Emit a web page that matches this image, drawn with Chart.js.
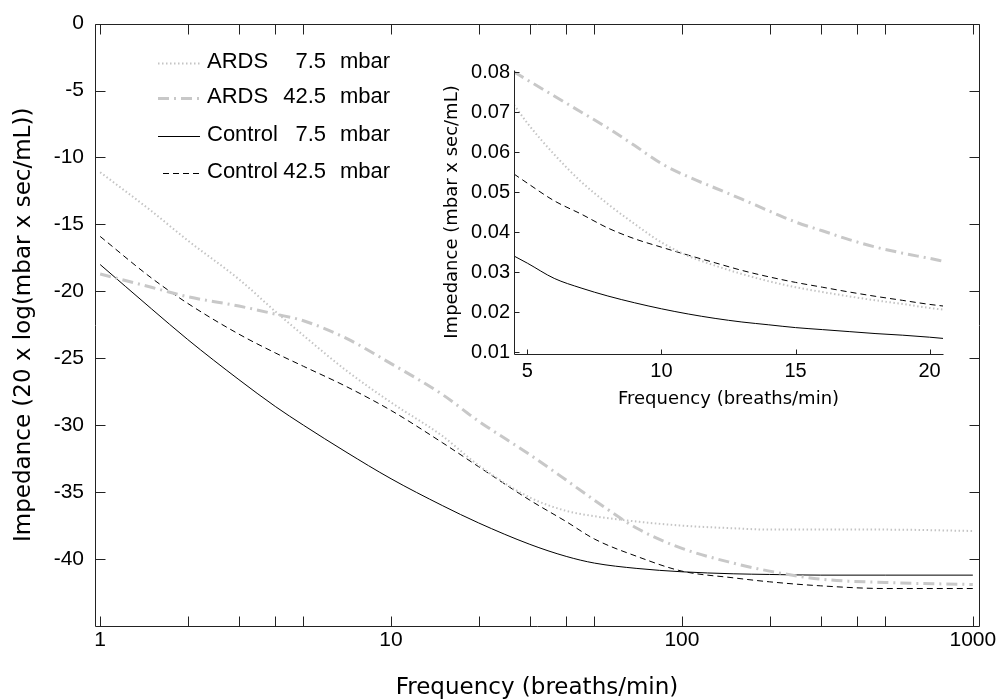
<!DOCTYPE html>
<html>
<head>
<meta charset="utf-8">
<title>Impedance vs frequency</title>
<script src="https://cdn.jsdelivr.net/npm/chart.js@4.4.1/dist/chart.umd.min.js"></script>
<style>
  html, body { margin: 0; padding: 0; background: #fff; }
  #wrap { position: relative; width: 1000px; height: 700px; }
  #main { position: absolute; left: 0; top: 0; }
  #inset { position: absolute; left: 430px; top: 50px; }
</style>
</head>
<body>
<div id="wrap">
  <canvas id="main" width="1000" height="700"></canvas>
  <canvas id="inset" width="520" height="360"></canvas>
</div>
<script>
// series names for the legend
const groups = ["ARDS", "ARDS", "Control", "Control"];
const pressures = ["7.5", "42.5", "7.5", "42.5"];

// main plot: frequency (breaths/min) vs 20 log impedance
const freq = [1, 1.5, 2, 3, 4, 5, 7, 10, 15, 20, 30, 40, 50, 70, 100, 150, 200, 300, 500, 1000];
const ards75 = [-11.1, -14.0, -16.2, -19.1, -21.5, -23.3, -25.9, -28.3, -30.8, -33.0, -35.4, -36.4, -36.8, -37.2, -37.5, -37.7, -37.8, -37.8, -37.8, -37.9];
const ards425 = [-18.7, -19.7, -20.4, -21.1, -21.7, -22.2, -23.5, -25.4, -27.7, -29.7, -32.2, -34.1, -35.6, -37.7, -39.2, -40.3, -40.9, -41.5, -41.75, -41.9];
const ctrl75 = [-18.0, -21.3, -23.6, -26.6, -28.6, -30.0, -32.0, -34.0, -36.0, -37.3, -38.9, -39.8, -40.3, -40.7, -40.95, -41.1, -41.15, -41.2, -41.2, -41.2];
const ctrl425 = [-15.9, -19.0, -20.9, -23.2, -24.6, -25.6, -27.1, -28.9, -31.3, -33.1, -35.6, -37.2, -38.5, -39.8, -40.9, -41.4, -41.7, -42.0, -42.2, -42.2];

const xLabelTicks = [1, 10, 100, 1000];
const xMarkTicks = [1, 2, 3, 4, 5, 10, 20, 30, 40, 50, 100, 200, 300, 400, 500, 1000];
const yTicks = [0, -5, -10, -15, -20, -25, -30, -35, -40];

// inset: linear impedance, 5-20 breaths/min
const insetFreq = [4.5, 5, 6, 7, 8, 9, 10, 11, 12, 13, 14, 15, 16, 17, 18, 19, 20, 20.5];
const insetArds75 = [0.0718, 0.0672, 0.0594, 0.0526, 0.0470, 0.0420, 0.0374, 0.0340, 0.0316, 0.0295, 0.0277, 0.0262, 0.0250, 0.0239, 0.0229, 0.0220, 0.0210, 0.0206];
const insetArds425 = [0.0800, 0.0780, 0.0740, 0.0700, 0.0660, 0.0616, 0.0571, 0.0538, 0.0510, 0.0482, 0.0453, 0.0425, 0.0403, 0.0381, 0.0362, 0.0347, 0.0334, 0.0327];
const insetCtrl75 = [0.0340, 0.0322, 0.0284, 0.0260, 0.0240, 0.0223, 0.0208, 0.0195, 0.0184, 0.0175, 0.0168, 0.0161, 0.0156, 0.0151, 0.0146, 0.0142, 0.0137, 0.0134];
const insetCtrl425 = [0.0545, 0.0522, 0.0478, 0.0445, 0.0410, 0.0383, 0.0362, 0.0342, 0.0323, 0.0304, 0.0288, 0.0274, 0.0262, 0.0250, 0.0239, 0.0229, 0.0219, 0.0215];

const insetXTicks = [5, 10, 15, 20];
const insetYTicks = [0.01, 0.02, 0.03, 0.04, 0.05, 0.06, 0.07, 0.08];

const styles = [
  { color: "#c4c4c4", width: 2, dash: [1.5, 2.5] },
  { color: "#c8c8c8", width: 3, dash: [11, 5, 2, 5] },
  { color: "#000000", width: 1, dash: [] },
  { color: "#000000", width: 1, dash: [6, 4] }
];

const tickFont = "'Liberation Sans', Arial, sans-serif";
const titleFont = "'DejaVu Sans', sans-serif";

function makeDatasets(xs, series) {
  return series.map((ys, i) => ({
    label: `${groups[i]} ${pressures[i]} mbar`,
    data: xs.map((x, j) => ({ x, y: ys[j] })),
    borderColor: styles[i].color,
    borderWidth: styles[i].width,
    borderDash: styles[i].dash,
    pointRadius: 0,
    fill: false,
    cubicInterpolationMode: "monotone"
  }));
}

// axis lines and inward tick marks, MATLAB style
const framePlugin = {
  id: "frame",
  afterDatasetsDraw(chart, args, opts) {
    const { ctx, chartArea: a, scales: { x, y } } = chart;
    const L = Math.round(a.left) + 0.5, R = Math.round(a.right) + 0.5;
    const T = Math.round(a.top) + 0.5, B = Math.round(a.bottom) + 0.5;
    ctx.save();
    ctx.strokeStyle = opts.color;
    ctx.lineWidth = 1;
    ctx.setLineDash([]);
    ctx.beginPath();
    ctx.moveTo(L, T);
    ctx.lineTo(L, B);
    ctx.lineTo(R, B);
    if (opts.box) {
      ctx.lineTo(R, T);
      ctx.lineTo(L, T);
    }
    opts.xTicks.forEach((v) => {
      const px = Math.round(x.getPixelForValue(v)) + 0.5;
      ctx.moveTo(px, B);
      ctx.lineTo(px, B - opts.len);
      if (opts.box) {
        ctx.moveTo(px, T);
        ctx.lineTo(px, T + opts.len);
      }
    });
    opts.yTicks.forEach((v) => {
      const py = Math.round(y.getPixelForValue(v)) + 0.5;
      ctx.moveTo(L, py);
      ctx.lineTo(L + opts.len, py);
      if (opts.box) {
        ctx.moveTo(R, py);
        ctx.lineTo(R - opts.len, py);
      }
    });
    ctx.stroke();
    ctx.restore();
  }
};

// legend without a box: sample line, group name, right-aligned pressure, unit
const legendPlugin = {
  id: "lineLegend",
  afterDraw(chart, args, opts) {
    if (!opts.rows) return;
    const ctx = chart.ctx;
    chart.data.datasets.forEach((ds, i) => {
      const yy = opts.rows[i];
      ctx.save();
      ctx.strokeStyle = ds.borderColor;
      ctx.lineWidth = ds.borderWidth;
      ctx.setLineDash(ds.borderDash);
      ctx.beginPath();
      ctx.moveTo(opts.lineX[i][0], yy + 0.5);
      ctx.lineTo(opts.lineX[i][1], yy + 0.5);
      ctx.stroke();
      ctx.fillStyle = "#000";
      ctx.font = `22px ${tickFont}`;
      ctx.textBaseline = "middle";
      ctx.textAlign = "left";
      ctx.fillText(groups[i], opts.nameX, yy - 1);
      ctx.textAlign = "right";
      ctx.fillText(pressures[i], opts.valueRight, yy - 1);
      ctx.textAlign = "left";
      ctx.fillText("mbar", opts.unitX, yy - 1);
      ctx.restore();
    });
  }
};

new Chart(document.querySelector("#main"), {
  type: "line",
  data: { datasets: makeDatasets(freq, [ards75, ards425, ctrl75, ctrl425]) },
  options: {
    responsive: false,
    animation: false,
    layout: { padding: { top: 19, right: 21, left: 0, bottom: 0 } },
    plugins: {
      legend: { display: false },
      tooltip: { enabled: false },
      frame: { box: true, xTicks: xMarkTicks, yTicks: yTicks, len: 10, color: "#222" },
      lineLegend: {
        rows: [63, 98, 136, 173],
        lineX: [[158, 200], [158, 200], [158, 200], [163, 200]],
        nameX: 207,
        valueRight: 326,
        unitX: 340
      }
    },
    scales: {
      x: {
        type: "logarithmic",
        min: 0.96,
        max: 1050,
        afterBuildTicks: (s) => { s.ticks = xLabelTicks.map((v) => ({ value: v })); },
        afterFit: (s) => { s.height = 74; },
        grid: { display: false, drawTicks: false },
        border: { display: false },
        ticks: {
          autoSkip: false, maxRotation: 0, padding: 2, color: "#000",
          font: { family: tickFont, size: 21 },
          callback: (v) => String(v)
        },
        title: {
          display: true, text: "Frequency (breaths/min)", color: "#000",
          font: { family: titleFont, size: 23 }, padding: { top: 0, bottom: -2 }
        }
      },
      y: {
        min: -45,
        max: 0,
        afterBuildTicks: (s) => { s.ticks = yTicks.map((v) => ({ value: v })); },
        afterFit: (s) => { s.width = 95; },
        grid: { display: false, drawTicks: false },
        border: { display: false },
        ticks: {
          padding: 11, color: "#000",
          font: { family: tickFont, size: 21 },
          callback: (v) => String(v)
        },
        title: {
          display: true, text: "Impedance (20 x log(mbar x sec/mL))", color: "#000",
          font: { family: titleFont, size: 23 }, padding: { top: 10, bottom: 0 }
        }
      }
    }
  },
  plugins: [framePlugin, legendPlugin]
});

new Chart(document.querySelector("#inset"), {
  type: "line",
  data: { datasets: makeDatasets(insetFreq, [insetArds75, insetArds425, insetCtrl75, insetCtrl425]) },
  options: {
    responsive: false,
    animation: false,
    layout: { padding: { top: 20, right: 7, left: 0, bottom: 0 } },
    plugins: {
      legend: { display: false },
      tooltip: { enabled: false },
      frame: { box: false, xTicks: insetXTicks, yTicks: insetYTicks, len: 5, color: "#222" }
    },
    scales: {
      x: {
        type: "linear",
        min: 4.5,
        max: 20.5,
        afterBuildTicks: (s) => { s.ticks = insetXTicks.map((v) => ({ value: v })); },
        afterFit: (s) => { s.height = 56; },
        grid: { display: false, drawTicks: false },
        border: { display: false },
        ticks: {
          autoSkip: false, maxRotation: 0, padding: 5, color: "#000",
          font: { family: tickFont, size: 20 },
          callback: (v) => String(v)
        },
        title: {
          display: true, text: "Frequency (breaths/min)", color: "#000",
          font: { family: titleFont, size: 18 }, padding: { top: 0, bottom: 0 }
        }
      },
      y: {
        min: 0.0095,
        max: 0.0805,
        afterBuildTicks: (s) => { s.ticks = insetYTicks.map((v) => ({ value: v })); },
        afterFit: (s) => { s.width = 84; },
        grid: { display: false, drawTicks: false },
        border: { display: false },
        ticks: {
          padding: 4, color: "#000",
          font: { family: tickFont, size: 20 },
          callback: (v) => v.toFixed(2)
        },
        title: {
          display: true, text: "Impedance (mbar x sec/mL)", color: "#000",
          font: { family: titleFont, size: 18 }, padding: { top: 12, bottom: 0 }
        }
      }
    }
  },
  plugins: [framePlugin]
});
</script>
</body>
</html>
